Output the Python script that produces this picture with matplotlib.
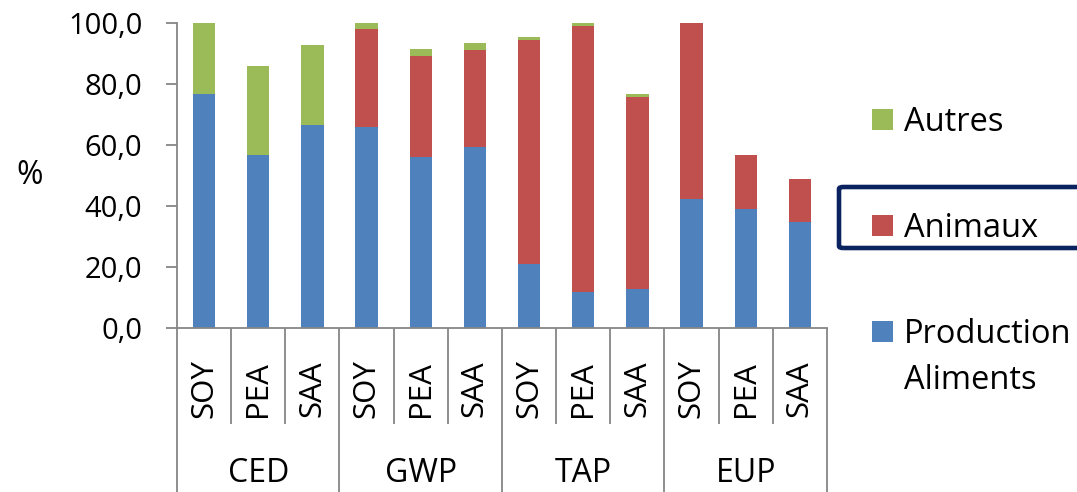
import matplotlib
matplotlib.use("Agg")
import matplotlib.pyplot as plt
from matplotlib.patches import Rectangle, FancyBboxPatch
from matplotlib.ticker import FuncFormatter
import numpy as np

# Data: impact categories, feed scenarios and stacked contributions (%)
groups = ["CED", "GWP", "TAP", "EUP"]
scenarios = ["SOY", "PEA", "SAA"]
production_aliments = [76.8, 56.6, 66.7, 65.9, 56.0, 59.2, 21.1, 11.7, 12.7, 42.3, 38.9, 34.6]
animaux = [0.0, 0.0, 0.0, 32.1, 33.3, 32.1, 73.4, 87.4, 63.0, 57.7, 17.7, 14.3]
autres = [23.2, 29.2, 26.0, 2.0, 2.1, 2.0, 0.9, 0.9, 0.9, 0.0, 0.0, 0.0]
series_labels = ["Production\nAliments", "Animaux", "Autres"]
yticks = [0, 20, 40, 60, 80, 100]

BLUE, RED, GREEN = "#4F81BD", "#C0504D", "#9BBB59"
AXIS_GREY = "#868686"
FONT = "Open Sans"
plt.rcParams["font.family"] = [FONT, "DejaVu Sans"]

W, H = 1077, 492
fig = plt.figure(figsize=(W / 100, H / 100), dpi=100)
ax_l, ax_r, ax_t, ax_b = 177, 827, 23, 328
ax = fig.add_axes([ax_l / W, 1 - ax_b / H, (ax_r - ax_l) / W, (ax_b - ax_t) / H])

n = len(production_aliments)
x = np.arange(n)
pa = np.array(production_aliments)
an = np.array(animaux)
au = np.array(autres)
bw = 0.41
ax.bar(x, pa, bw, color=BLUE, linewidth=0)
ax.bar(x, an, bw, bottom=pa, color=RED, linewidth=0)
ax.bar(x, au, bw, bottom=pa + an, color=GREEN, linewidth=0)

ax.set_xlim(-0.5, n - 0.5)
ax.set_ylim(0, 100)
ax.set_yticks(yticks)
ax.yaxis.set_major_formatter(FuncFormatter(lambda v, p: f"{v:.1f}".replace(".", ",")))
ax.tick_params(axis="y", direction="out", length=8, width=1.3, color=AXIS_GREY,
               pad=17, labelsize=21)
ax.set_xticks([])
for s in ["top", "right"]:
    ax.spines[s].set_visible(False)
for s in ["left", "bottom"]:
    ax.spines[s].set_color(AXIS_GREY)
    ax.spines[s].set_linewidth(1.3)

# Multi-level category axis
h_ax = ax_b - ax_t
inner_bottom = -(424 - ax_b) / h_ax
outer_bottom = -(H - ax_b) / h_ax
tr = ax.get_xaxis_transform()
for i in range(n + 1):
    xb = i - 0.5
    yb = outer_bottom if i % 3 == 0 else inner_bottom
    ax.plot([xb, xb], [0, yb], transform=tr, color=AXIS_GREY, lw=1.3,
            clip_on=False, solid_capstyle="butt")
label_y = -(389 - ax_b) / h_ax
for i in range(n):
    ax.text(i, label_y, scenarios[i % 3], transform=tr, rotation=90,
            ha="center", va="center", fontsize=22.5)
group_y = -(473 - ax_b) / h_ax
for g, name in enumerate(groups):
    ax.text(3 * g + 1, group_y, name, transform=tr, ha="center", va="center",
            fontsize=23)

fig.text(30 / W, 1 - 175 / H, "%", ha="center", va="center", fontsize=23)

# Legend
sq = 21
entries = [(GREEN, "Autres", 119.5, 131), (RED, "Animaux", 225.5, 237),
           (BLUE, "Production", 331.5, 343)]
for col, txt, cy, base in entries:
    fig.patches.append(Rectangle((872 / W, 1 - (cy + sq / 2) / H), sq / W, sq / H,
                                 transform=fig.transFigure, facecolor=col,
                                 edgecolor="none"))
    fig.text(904 / W, 1 - base / H, txt, ha="left", va="baseline", fontsize=23.5)
fig.text(904 / W, 1 - 389 / H, "Aliments", ha="left", va="baseline", fontsize=23.5)

# Highlight frame around the Animaux entry
fig.patches.append(FancyBboxPatch((839 / W, 1 - 248 / H), 260 / W, 61 / H,
                                  boxstyle="round,pad=0,rounding_size=0.004",
                                  transform=fig.transFigure, facecolor="none",
                                  edgecolor="#0B2260", linewidth=3.3))

fig.savefig("out.png", dpi=100)
